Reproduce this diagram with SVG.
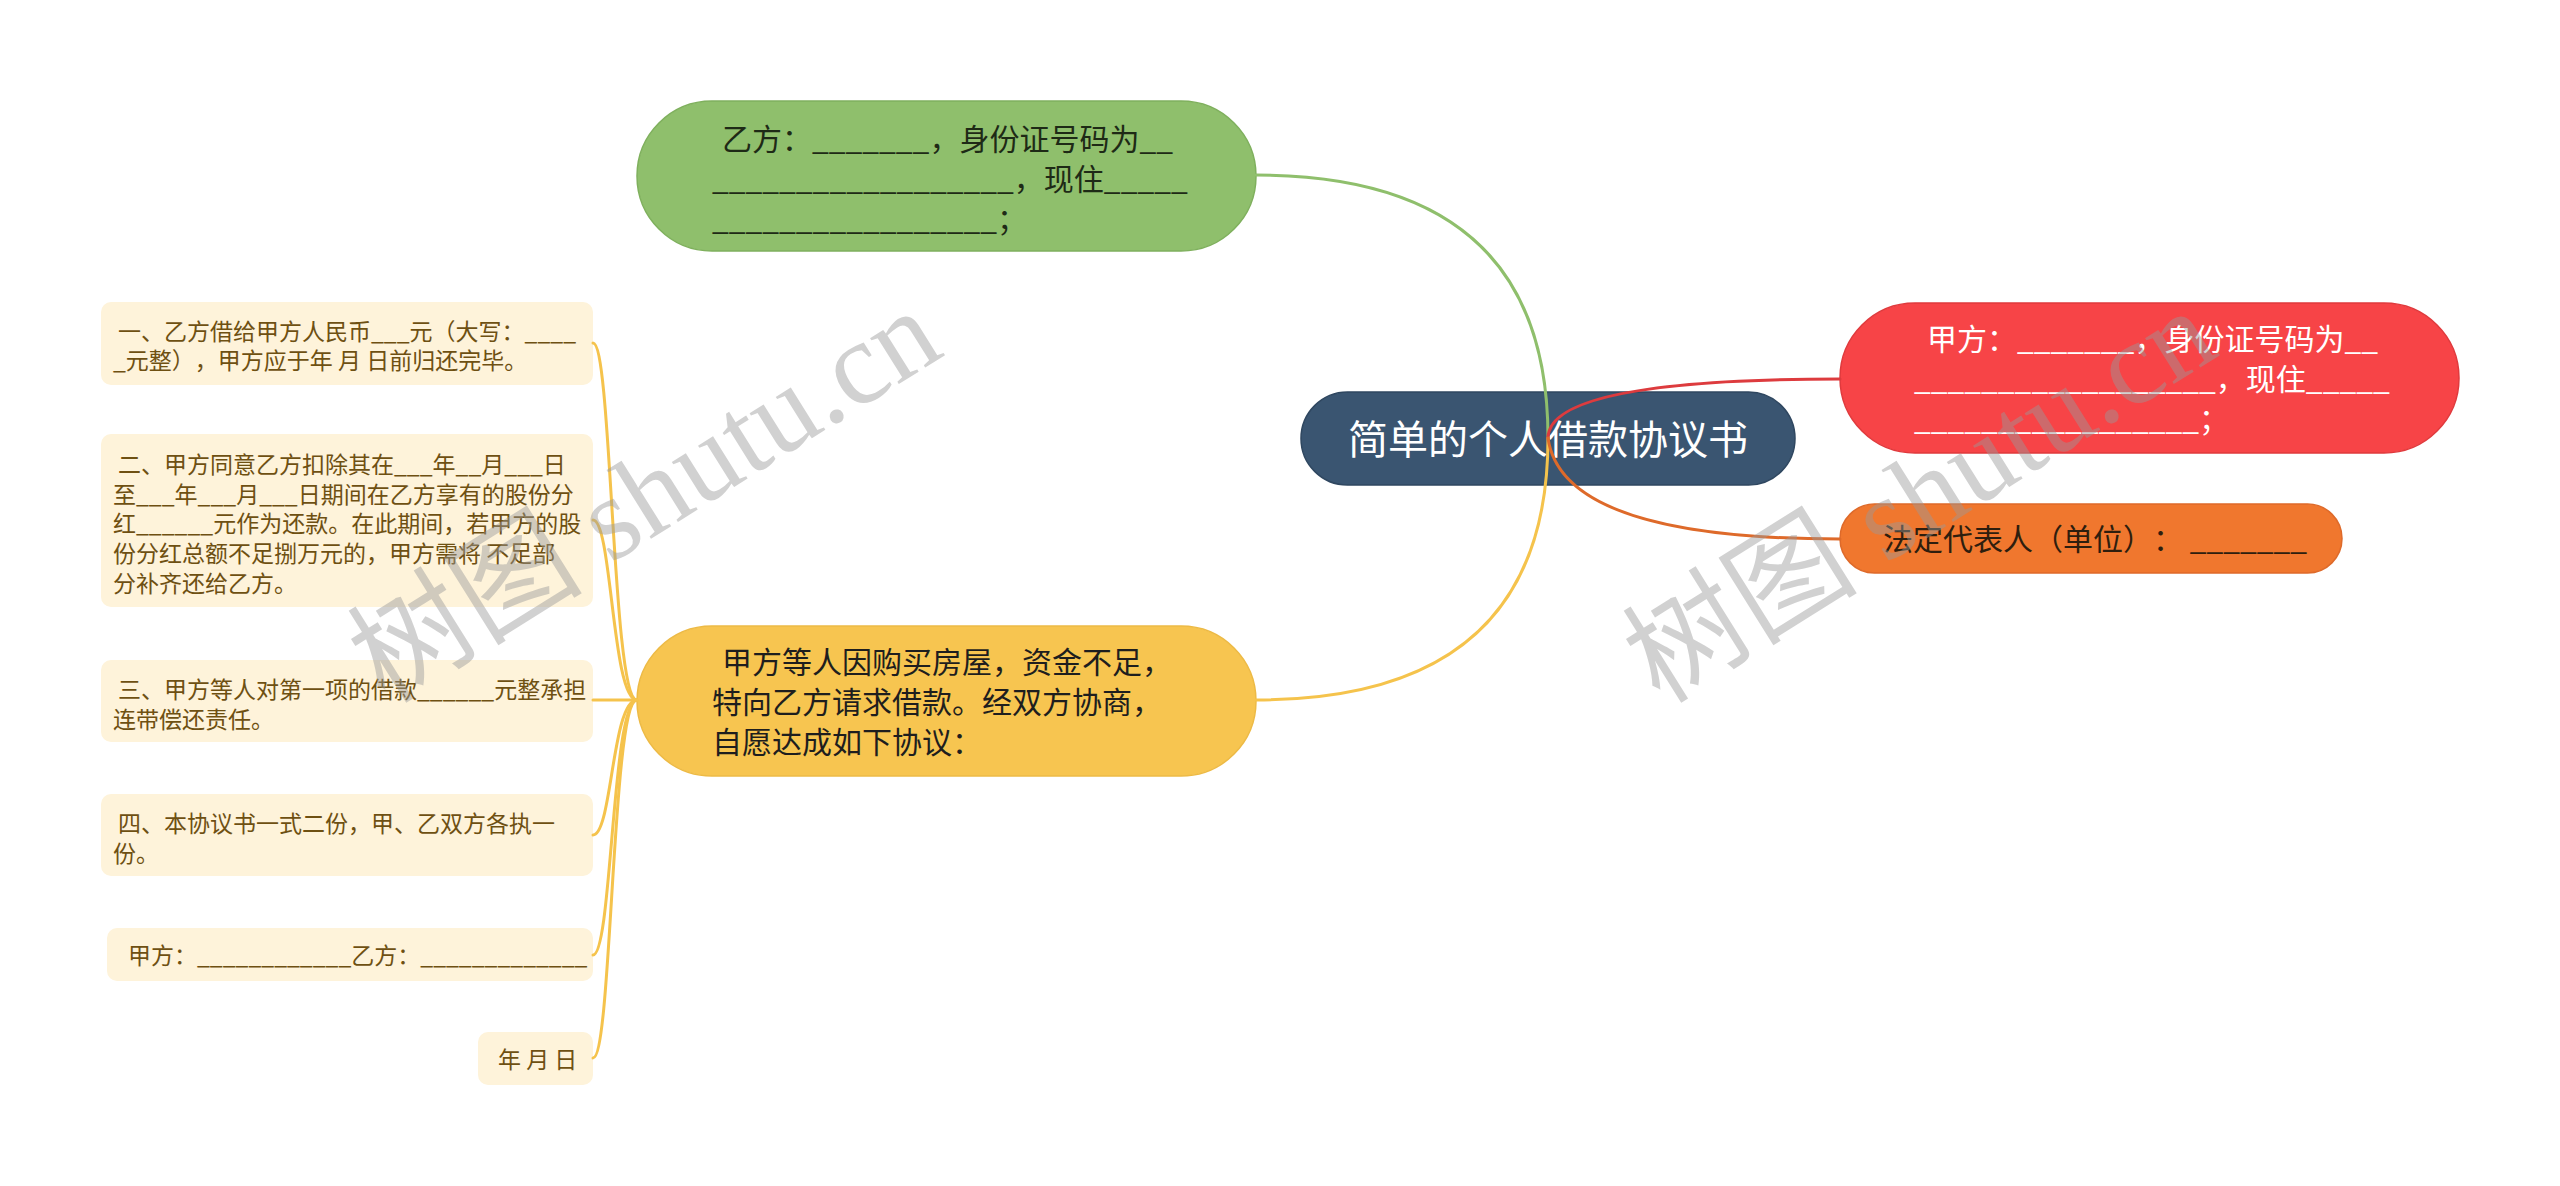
<svg xmlns="http://www.w3.org/2000/svg" width="2560" height="1186" viewBox="0 0 2560 1186">
<style>
text{font-family:"Microsoft YaHei","Noto Sans CJK SC","Noto Sans",sans-serif;text-spacing-trim:space-all;}
.leaf rect{fill:#FEF3DA;}
.leaf text{font-size:23px;fill:#6E5012;}
.big{font-size:30px;}
.c{fill:none;stroke-width:3;stroke-linecap:round;}
.wm{font-family:"Liberation Serif","Noto Sans CJK SC",serif;font-size:118px;fill:#9a9a9a;opacity:0.45;}
</style>
<rect width="2560" height="1186" fill="#FFFFFF"/>
<g id="root">
<rect x="1301" y="392" width="494" height="93" rx="46.5" fill="#3A5571" stroke="#2F4760" stroke-width="1.5"/>
<text x="1548" y="454" text-anchor="middle" font-size="40" fill="#FFFFFF">简单的个人借款协议书</text>
</g>
<g id="node-yi">
<rect x="637" y="101" width="619" height="150" rx="75" fill="#8FBF6C" stroke="#7FB05D" stroke-width="1.5"/>
<text class="big" fill="#1E2A16"><tspan x="722" y="150">乙方：_______，身份证号码为__</tspan><tspan x="712" y="190">__________________，现住_____</tspan><tspan x="712" y="230">_________________；</tspan></text>
</g>
<g id="node-jia">
<rect x="1840" y="303" width="619" height="150" rx="75" fill="#F74447" stroke="#E03A3D" stroke-width="1.5"/>
<text class="big" fill="#FFFFFF"><tspan x="1927" y="350">甲方：_______，身份证号码为__</tspan><tspan x="1914" y="390">__________________，现住_____</tspan><tspan x="1914" y="430">_________________；</tspan></text>
</g>
<g id="node-rep">
<rect x="1840" y="504" width="502" height="69" rx="34.5" fill="#F0772E" stroke="#DE6A2A" stroke-width="1.5"/>
<text class="big" x="1883" y="550" fill="#2E1E0E" xml:space="preserve">法定代表人（单位）： _______</text>
</g>
<g id="node-intro">
<rect x="637" y="626" width="619" height="150" rx="75" fill="#F7C550" stroke="#EDBA45" stroke-width="1.5"/>
<text class="big" fill="#1E1E1E"><tspan x="722" y="673">甲方等人因购买房屋，资金不足，</tspan><tspan x="712" y="713">特向乙方请求借款。经双方协商，</tspan><tspan x="712" y="753">自愿达成如下协议：</tspan></text>
</g>
<g id="leaf-1" class="leaf">
<rect x="101" y="302" width="492" height="83" rx="10"/>
<text><tspan x="118" y="340">一、乙方借给甲方人民币___元（大写：____</tspan><tspan x="113" y="369">_元整），甲方应于年 月 日前归还完毕。</tspan></text>
</g>
<g id="leaf-2" class="leaf">
<rect x="101" y="434" width="492" height="173" rx="10"/>
<text><tspan x="118" y="473">二、甲方同意乙方扣除其在___年__月___日</tspan><tspan x="113" y="503">至___年___月___日期间在乙方享有的股份分</tspan><tspan x="113" y="532">红______元作为还款。在此期间，若甲方的股</tspan><tspan x="113" y="562">份分红总额不足捌万元的，甲方需将 不足部</tspan><tspan x="113" y="592">分补齐还给乙方。</tspan></text>
</g>
<g id="leaf-3" class="leaf">
<rect x="101" y="660" width="492" height="82" rx="10"/>
<text><tspan x="118" y="698">三、甲方等人对第一项的借款______元整承担</tspan><tspan x="113" y="728">连带偿还责任。</tspan></text>
</g>
<g id="leaf-4" class="leaf">
<rect x="101" y="794" width="492" height="82" rx="10"/>
<text><tspan x="118" y="832">四、本协议书一式二份，甲、乙双方各执一</tspan><tspan x="113" y="862">份。</tspan></text>
</g>
<g id="leaf-5" class="leaf">
<rect x="107" y="928" width="486" height="53" rx="10"/>
<text x="128" y="964">甲方：____________乙方：_____________</text>
</g>
<g id="leaf-6" class="leaf">
<rect x="478" y="1032" width="115" height="53" rx="10"/>
<text x="498" y="1068">年 月 日</text>
</g>
<g id="connectors">
<path class="c" stroke="#8FBF6C" d="M1548,438 Q1548,175 1256,175"/>
<path class="c" stroke="#F5C34C" d="M1548,438 Q1548,700 1256,700"/>
<path class="c" stroke="#DD3B3E" d="M1548,438 Q1548,379 1840,379"/>
<path class="c" stroke="#DE6A2A" d="M1548,438 Q1562,539 1840,539"/>
<g stroke="#F5C34C">
<path class="c" d="M637,700 C612,700 612,343 593,343"/>
<path class="c" d="M637,700 C612,700 612,520 593,520"/>
<path class="c" d="M637,700 L593,700"/>
<path class="c" d="M637,700 C612,700 612,835 593,835"/>
<path class="c" d="M637,700 C612,700 612,955 593,955"/>
<path class="c" d="M637,700 C612,700 612,1058 593,1058"/>
</g>
</g>
<g id="watermark">
<text class="wm" x="385" y="705" transform="rotate(-32 385 705)">树图 shutu.cn</text>
<text class="wm" x="1660" y="705" transform="rotate(-32 1660 705)">树图 shutu.cn</text>
</g>
</svg>
